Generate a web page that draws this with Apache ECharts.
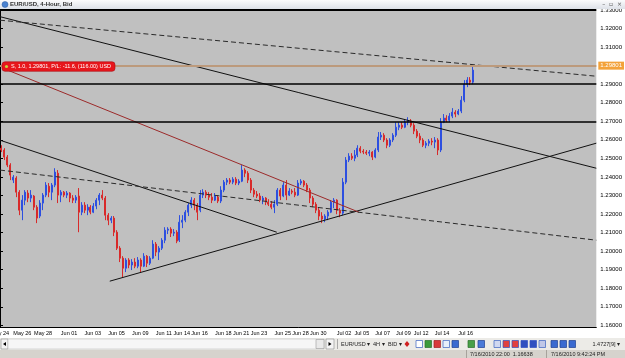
<!DOCTYPE html>
<html>
<head>
<meta charset="utf-8">
<script src="https://cdn.jsdelivr.net/npm/echarts@6/dist/echarts.min.js"></script>
<style>
html, body { margin: 0; padding: 0; background: #fff; }
#chart { width: 625px; height: 358px; }
</style>
</head>
<body>
<div id="chart"></div>
<script>
// EUR/USD 4-Hour, Bid  -- candles as [open, close, low, high]
const candles = [
    [1.2555, 1.2545, 1.2534, 1.2571], [1.2545, 1.2507, 1.2491, 1.2555], [1.2507, 1.2464, 1.2453, 1.2518],
    [1.2464, 1.2410, 1.2383, 1.2474], [1.2383, 1.2399, 1.2367, 1.2410], [1.2394, 1.2318, 1.2291, 1.2404],
    [1.2318, 1.2221, 1.2194, 1.2329], [1.2221, 1.2275, 1.2167, 1.2302], [1.2275, 1.2318, 1.2248, 1.2329],
    [1.2313, 1.2286, 1.2264, 1.2329], // 10
    [1.2286, 1.2302, 1.2264, 1.2329], [1.2297, 1.2237, 1.2221, 1.2302], [1.2237, 1.2178, 1.2151, 1.2248],
    [1.2189, 1.2259, 1.2178, 1.2275], [1.2259, 1.2302, 1.2221, 1.2313], [1.2302, 1.2356, 1.2291, 1.2372],
    [1.2350, 1.2318, 1.2291, 1.2367], [1.2318, 1.2356, 1.2275, 1.2367], [1.2356, 1.2426, 1.2345, 1.2447],
    [1.2420, 1.2302, 1.2259, 1.2437], // 20
    [1.2302, 1.2318, 1.2264, 1.2329], [1.2318, 1.2302, 1.2291, 1.2324], [1.2302, 1.2313, 1.2286, 1.2324],
    [1.2313, 1.2286, 1.2264, 1.2318], [1.2286, 1.2275, 1.2259, 1.2302], [1.2275, 1.2291, 1.2259, 1.2302],
    [1.2297, 1.2210, 1.2102, 1.2340], [1.2210, 1.2248, 1.2194, 1.2264], [1.2248, 1.2221, 1.2205, 1.2264],
    [1.2221, 1.2237, 1.2194, 1.2253], // 30
    [1.2237, 1.2210, 1.2199, 1.2248], [1.2210, 1.2243, 1.2205, 1.2259], [1.2243, 1.2275, 1.2226, 1.2286],
    [1.2275, 1.2302, 1.2248, 1.2313], [1.2302, 1.2286, 1.2275, 1.2329], [1.2286, 1.2194, 1.2167, 1.2297],
    [1.2194, 1.2167, 1.2140, 1.2205], [1.2167, 1.2178, 1.2151, 1.2189], [1.2178, 1.2102, 1.2081, 1.2189],
    [1.2102, 1.2016, 1.2006, 1.2113], // 40
    [1.2016, 1.1962, 1.1941, 1.2027], [1.1962, 1.1908, 1.1860, 1.1973], [1.1908, 1.1952, 1.1887, 1.1962],
    [1.1952, 1.1925, 1.1908, 1.1962], [1.1925, 1.1941, 1.1898, 1.1957], [1.1941, 1.1919, 1.1908, 1.1962],
    [1.1919, 1.1952, 1.1908, 1.1968], [1.1952, 1.1919, 1.1887, 1.1962], [1.1919, 1.1973, 1.1914, 1.1989],
    [1.1973, 1.1935, 1.1914, 1.1979], // 50
    [1.1935, 1.1962, 1.1925, 1.1973], [1.1962, 1.2038, 1.1957, 1.2059], [1.2038, 1.1995, 1.1973, 1.2049],
    [1.1995, 1.2016, 1.1952, 1.2027], [1.2016, 1.2059, 1.2006, 1.2070], [1.2059, 1.2113, 1.2043, 1.2129],
    [1.2113, 1.2119, 1.2092, 1.2129], [1.2119, 1.2097, 1.2076, 1.2129], [1.2097, 1.2102, 1.2081, 1.2119],
    [1.2102, 1.2054, 1.2043, 1.2113], // 60
    [1.2059, 1.2156, 1.2049, 1.2194], [1.2156, 1.2167, 1.2124, 1.2194], [1.2167, 1.2210, 1.2156, 1.2221],
    [1.2210, 1.2248, 1.2189, 1.2259], [1.2248, 1.2275, 1.2232, 1.2291], [1.2275, 1.2248, 1.2221, 1.2286],
    [1.2248, 1.2210, 1.2167, 1.2259], [1.2221, 1.2302, 1.2210, 1.2329], [1.2302, 1.2318, 1.2286, 1.2334],
    [1.2318, 1.2302, 1.2286, 1.2329], // 70
    [1.2302, 1.2291, 1.2275, 1.2318], [1.2291, 1.2275, 1.2259, 1.2313], [1.2275, 1.2297, 1.2270, 1.2313],
    [1.2291, 1.2270, 1.2259, 1.2302], [1.2270, 1.2329, 1.2259, 1.2350], [1.2329, 1.2372, 1.2318, 1.2383],
    [1.2372, 1.2383, 1.2356, 1.2394], [1.2383, 1.2372, 1.2361, 1.2394], [1.2372, 1.2388, 1.2361, 1.2399],
    [1.2388, 1.2367, 1.2356, 1.2399], // 80
    [1.2367, 1.2377, 1.2356, 1.2388], [1.2377, 1.2437, 1.2372, 1.2464], [1.2437, 1.2420, 1.2399, 1.2447],
    [1.2420, 1.2383, 1.2367, 1.2431], [1.2383, 1.2329, 1.2313, 1.2394], [1.2329, 1.2307, 1.2291, 1.2340],
    [1.2307, 1.2297, 1.2286, 1.2324], [1.2297, 1.2275, 1.2264, 1.2313], [1.2275, 1.2286, 1.2253, 1.2297],
    [1.2286, 1.2264, 1.2248, 1.2291], // 90
    [1.2264, 1.2253, 1.2243, 1.2280], [1.2253, 1.2237, 1.2226, 1.2270], [1.2237, 1.2253, 1.2205, 1.2275],
    [1.2253, 1.2329, 1.2243, 1.2340], [1.2329, 1.2297, 1.2275, 1.2340], [1.2297, 1.2356, 1.2291, 1.2372],
    [1.2356, 1.2302, 1.2275, 1.2383], [1.2302, 1.2324, 1.2297, 1.2340], [1.2324, 1.2318, 1.2307, 1.2334],
    [1.2318, 1.2302, 1.2291, 1.2340], // 100
    [1.2302, 1.2367, 1.2297, 1.2383], [1.2367, 1.2377, 1.2356, 1.2388], [1.2377, 1.2356, 1.2345, 1.2383],
    [1.2356, 1.2329, 1.2318, 1.2367], [1.2329, 1.2286, 1.2259, 1.2340], [1.2286, 1.2253, 1.2237, 1.2297],
    [1.2253, 1.2221, 1.2205, 1.2264], [1.2221, 1.2189, 1.2167, 1.2232], [1.2189, 1.2173, 1.2151, 1.2210],
    [1.2173, 1.2189, 1.2156, 1.2199], // 110
    [1.2189, 1.2210, 1.2167, 1.2221], [1.2210, 1.2264, 1.2205, 1.2275], [1.2264, 1.2275, 1.2232, 1.2286],
    [1.2275, 1.2221, 1.2199, 1.2280], [1.2221, 1.2205, 1.2183, 1.2232], [1.2205, 1.2372, 1.2194, 1.2394],
    [1.2372, 1.2491, 1.2361, 1.2507], [1.2491, 1.2512, 1.2480, 1.2528], [1.2512, 1.2501, 1.2491, 1.2528],
    [1.2501, 1.2518, 1.2485, 1.2545], // 120
    [1.2518, 1.2555, 1.2507, 1.2571], [1.2555, 1.2539, 1.2528, 1.2566], [1.2539, 1.2534, 1.2523, 1.2550],
    [1.2534, 1.2528, 1.2518, 1.2545], [1.2528, 1.2534, 1.2512, 1.2545], [1.2534, 1.2507, 1.2491, 1.2539],
    [1.2507, 1.2545, 1.2501, 1.2555], [1.2545, 1.2615, 1.2534, 1.2642], [1.2615, 1.2625, 1.2599, 1.2642],
    [1.2625, 1.2599, 1.2588, 1.2636], // 130
    [1.2599, 1.2571, 1.2555, 1.2609], [1.2571, 1.2599, 1.2561, 1.2609], [1.2599, 1.2625, 1.2588, 1.2636],
    [1.2625, 1.2668, 1.2615, 1.2695], [1.2668, 1.2679, 1.2652, 1.2695], [1.2679, 1.2668, 1.2658, 1.2695],
    [1.2668, 1.2695, 1.2663, 1.2712], [1.2695, 1.2701, 1.2679, 1.2722], [1.2701, 1.2679, 1.2668, 1.2712],
    [1.2679, 1.2647, 1.2631, 1.2690], // 140
    [1.2647, 1.2620, 1.2609, 1.2658], [1.2620, 1.2599, 1.2582, 1.2636], [1.2599, 1.2571, 1.2561, 1.2609],
    [1.2571, 1.2582, 1.2555, 1.2593], [1.2582, 1.2593, 1.2566, 1.2604], [1.2593, 1.2588, 1.2571, 1.2609],
    [1.2588, 1.2599, 1.2555, 1.2615], [1.2599, 1.2545, 1.2518, 1.2609], [1.2545, 1.2695, 1.2534, 1.2717],
    [1.2695, 1.2717, 1.2690, 1.2739], // 150
    [1.2717, 1.2706, 1.2695, 1.2733], [1.2706, 1.2728, 1.2695, 1.2744], [1.2728, 1.2749, 1.2717, 1.2771],
    [1.2749, 1.2739, 1.2722, 1.2760], [1.2739, 1.2755, 1.2733, 1.2766], [1.2755, 1.2814, 1.2744, 1.2836],
    [1.2814, 1.2900, 1.2803, 1.2922], [1.2900, 1.2922, 1.2884, 1.2938], [1.2922, 1.2911, 1.2895, 1.2938],
    [1.2911, 1.2976, 1.2900, 1.2997]  // 160
];

const barSlots = 201;  // bar slots on screen, the empty part on the right is the chart shift
const leadingLabel = 'May 24';
const xLabelBars = [4, 11, 20, 28, 36, 44, 52, 58, 64, 72, 78, 84, 92, 98, 104, 113, 119, 126, 133, 139, 146, 154];
const xLabelTexts = ['May 26', 'May 28', 'Jun 01', 'Jun 03', 'Jun 05', 'Jun 09', 'Jun 11', 'Jun 14', 'Jun 16', 'Jun 18',
    'Jun 21', 'Jun 23', 'Jun 25', 'Jun 28', 'Jun 30', 'Jul 02', 'Jul 05', 'Jul 07', 'Jul 09', 'Jul 12', 'Jul 14', 'Jul 16'];
const priceTicks = [1.16, 1.17, 1.18, 1.19, 1.20, 1.21, 1.22, 1.23, 1.24, 1.25, 1.26, 1.27, 1.28, 1.29, 1.30, 1.31, 1.32, 1.33];
const priceMin = 1.1591;
const priceMax = 1.3300;

// drawn objects: [bar slot, price]
const trendHigh = [[0, 1.3264], [201, 1.2447]];
const trendLow = [[0, 1.2598], [93.3, 1.2102]];
const trendRed = [[1, 1.2986], [121, 1.2210]];
const channelTop = [[0, 1.3245], [201, 1.2943]];
const channelBottom = [[0, 1.2437], [201, 1.2059]];
const supportLine = [[37, 1.1838], [201, 1.2582]];
const levels = [1.3294, 1.2933, 1.2712];
const orderPrice = 1.2983;
const orderText = 'S, 1.0, 1.29801, P/L: -11.6, (116.00) USD';
const orderTag = '1.29801';
const bidPrice = 1.2889;
const bidTag = '1.28890';

const FONT = 'Liberation Sans';

let myChart = echarts.init(document.getElementById('chart'));

let labelMap = {};
xLabelBars.forEach((b, k) => { labelMap[b] = xLabelTexts[k]; });
let categories = [];
for (let i = 0; i < barSlots; i++) categories.push(labelMap[i] || String(i));

// MT4 puts a small tick between each pair of dates
let tickSet = new Set(xLabelBars);
tickSet.add(0);
for (let k = 0; k < xLabelBars.length - 1; k++) {
    tickSet.add(Math.round((xLabelBars[k] + xLabelBars[k + 1]) / 2));
}
for (let b = 158; b < barSlots; b += 4) tickSet.add(b);

function drawnLine(pts, color, type) {
    return {
        type: 'line',
        xAxisIndex: 1,
        yAxisIndex: 0,
        data: pts,
        symbol: 'none',
        silent: true,
        clip: true,
        z: 3,
        lineStyle: { color: color, width: 1, type: type }
    };
}

let option = {
    animation: false,
    backgroundColor: '#fff',
    grid: {
        left: 0,
        right: 22,
        top: 10,
        bottom: 31,
        show: true,
        backgroundColor: '#c0c0c0',
        borderWidth: 0
    },
    xAxis: [
        {
            type: 'category',
            data: categories,
            boundaryGap: true,
            axisLine: { lineStyle: { color: '#000', width: 1 } },
            axisTick: {
                alignWithLabel: true,
                length: 3,
                interval: (i) => tickSet.has(i),
                lineStyle: { color: '#000' }
            },
            axisLabel: {
                interval: (i) => labelMap[i] !== undefined,
                formatter: (v, i) => labelMap[i] || '',
                align: 'left',
                margin: 3,
                fontSize: 5.5,
                fontFamily: FONT,
                color: '#000'
            },
            splitLine: { show: false }
        },
        { type: 'value', min: 0, max: barSlots, show: false }
    ],
    yAxis: {
        type: 'value',
        position: 'right',
        min: priceMin,
        max: priceMax,
        axisLine: { show: true, lineStyle: { color: '#000' } },
        axisTick: { show: true, length: 3, customValues: priceTicks, lineStyle: { color: '#000' } },
        axisLabel: {
            customValues: priceTicks,
            formatter: (v) => v.toFixed(5),
            margin: 4,
            fontSize: 6,
            fontFamily: FONT,
            color: '#000'
        },
        splitLine: { show: false }
    },
    series: [
        {
            type: 'candlestick',
            data: candles,
            barWidth: 1.5,
            z: 2,
            itemStyle: {
                color: '#2d4fe0',
                color0: '#d82a2a',
                borderColor: '#2d4fe0',
                borderColor0: '#d82a2a',
                borderWidth: 1
            },
            markLine: {
                silent: true,
                symbol: ['none', 'none'],
                label: { show: false },
                data: [
                    { yAxis: levels[0], lineStyle: { color: '#000', width: 2, type: 'solid' } },
                    { yAxis: levels[1], lineStyle: { color: '#000', width: 1.5, type: 'solid' } },
                    { yAxis: levels[2], lineStyle: { color: '#000', width: 1.5, type: 'solid' } },
                    {
                        yAxis: orderPrice,
                        lineStyle: { color: '#bc9a7c', width: 2, type: 'solid' },
                        label: {
                            show: true, position: 'end', distance: 2, formatter: orderTag,
                            backgroundColor: '#f3a23a', color: '#fff', fontSize: 6, fontFamily: FONT,
                            padding: [1, 2, 1, 2]
                        }
                    },
                    {
                        yAxis: bidPrice,
                        lineStyle: { opacity: 0 },
                        label: {
                            show: true, position: 'end', distance: 2, formatter: bidTag,
                            backgroundColor: '#e31c1c', color: '#fff', fontSize: 6, fontFamily: FONT,
                            padding: [1, 2, 1, 2]
                        }
                    }
                ]
            }
        },
        drawnLine(trendHigh, '#111', 'solid'),
        drawnLine(trendLow, '#111', 'solid'),
        drawnLine(supportLine, '#111', 'solid'),
        drawnLine(trendRed, '#9c2a2a', 'solid'),
        drawnLine(channelTop, '#2a2a2a', [5, 3]),
        drawnLine(channelBottom, '#2a2a2a', [5, 3])
    ]
};
myChart.setOption(option);

// window frame of the terminal and the order label
let orderY = myChart.convertToPixel({ yAxisIndex: 0 }, orderPrice);
let grad = new echarts.graphic.LinearGradient(0, 0, 0, 1, [
    { offset: 0, color: '#fbfbfc' }, { offset: 1, color: '#dde1e8' }
]);
let icons = [
    [416, '#ffffff', '#3a62c0'], [425, '#3b9b3b', '#2c6e2c'], [434, '#d83a3a', '#a02020'],
    [443, '#e6eefa', '#3a62c0'], [452, '#3a6ad0', '#1e3f90'], [468, '#48a048', '#2c6e2c'],
    [478, '#4a7ad8', '#1e3f90'], [494, '#d0d8f0', '#3a62c0'], [503, '#e04040', '#3050c0'],
    [512, '#e04040', '#3050c0'], [521, '#3050c0', '#3050c0'], [530, '#3050c0', '#3050c0'],
    [539, '#c0c8e8', '#3a62c0'], [551, '#3a6ad0', '#1e3f90'], [560, '#3a6ad0', '#1e3f90'],
    [569, '#3a6ad0', '#1e3f90']
];
let graphics = [
    { type: 'rect', z: 100, shape: { x: 0, y: 0, width: 625, height: 9 }, style: { fill: grad } },
    { type: 'circle', z: 101, shape: { cx: 5, cy: 4.5, r: 3 }, style: { fill: '#4a82d0', stroke: '#2a5aa0', lineWidth: 0.5 } },
    { type: 'text', z: 101, x: 10, y: 4.5, style: { text: 'EUR/USD, 4-Hour, Bid', font: 'bold 6px ' + FONT, fill: '#333', verticalAlign: 'middle' } },
    { type: 'text', z: 101, x: 622, y: 4.5, style: { text: '–  ▫  ×', font: '6px DejaVu Sans', fill: '#555', align: 'right', verticalAlign: 'middle' } },
    { type: 'text', z: 1, x: -9, y: 330, style: { text: leadingLabel, font: '5.5px ' + FONT, fill: '#000', verticalAlign: 'top' } },
    // scroll bar and toolbar
    { type: 'rect', z: 100, shape: { x: 0, y: 338, width: 625, height: 12 }, style: { fill: '#ecebe7' } },
    { type: 'rect', z: 101, shape: { x: 1, y: 339, width: 7, height: 10 }, style: { fill: '#f4f4f4', stroke: '#8c8c8c', lineWidth: 0.6 } },
    { type: 'polygon', z: 102, shape: { points: [[3, 344], [6, 342], [6, 346]] }, style: { fill: '#000' } },
    { type: 'rect', z: 101, shape: { x: 8, y: 339, width: 316, height: 10 }, style: { fill: '#f6f6f6', stroke: '#c4c4c4', lineWidth: 0.6 } },
    { type: 'rect', z: 102, shape: { x: 316, y: 339.5, width: 8, height: 9 }, style: { fill: '#e9e9e9', stroke: '#9a9a9a', lineWidth: 0.6 } },
    { type: 'rect', z: 101, shape: { x: 326, y: 339, width: 8, height: 10 }, style: { fill: '#f4f4f4', stroke: '#8c8c8c', lineWidth: 0.6 } },
    { type: 'polygon', z: 102, shape: { points: [[331.5, 344], [328.5, 342], [328.5, 346]] }, style: { fill: '#000' } },
    { type: 'line', z: 101, shape: { x1: 337.5, y1: 339, x2: 337.5, y2: 349 }, style: { stroke: '#999', lineWidth: 0.8 } },
    { type: 'text', z: 101, x: 341, y: 344, style: { text: 'EUR/USD ▾', font: '5.5px ' + FONT, fill: '#222', verticalAlign: 'middle' } },
    { type: 'text', z: 101, x: 373, y: 344, style: { text: '4H ▾', font: '5.5px ' + FONT, fill: '#222', verticalAlign: 'middle' } },
    { type: 'text', z: 101, x: 388, y: 344, style: { text: 'BID ▾', font: '5.5px ' + FONT, fill: '#222', verticalAlign: 'middle' } },
    { type: 'polygon', z: 101, shape: { points: [[407, 341], [409.5, 344], [407, 347], [404.5, 344]] }, style: { fill: '#d02020' } },
    { type: 'text', z: 101, x: 620, y: 344, style: { text: '1.4727[9] ▾', font: '5.5px ' + FONT, fill: '#222', align: 'right', verticalAlign: 'middle' } },
    // status bar
    { type: 'rect', z: 100, shape: { x: 0, y: 350, width: 625, height: 8 }, style: { fill: '#d6d3cd' } },
    { type: 'line', z: 101, shape: { x1: 466.5, y1: 350, x2: 466.5, y2: 358 }, style: { stroke: '#9a968e', lineWidth: 0.8 } },
    { type: 'line', z: 101, shape: { x1: 546.5, y1: 350, x2: 546.5, y2: 358 }, style: { stroke: '#9a968e', lineWidth: 0.8 } },
    { type: 'text', z: 101, x: 470, y: 354, style: { text: '7/16/2010 22:00  1.16638', font: '5.5px ' + FONT, fill: '#222', verticalAlign: 'middle' } },
    { type: 'text', z: 101, x: 551, y: 354, style: { text: '7/16/2010 9:42:24 PM', font: '5.5px ' + FONT, fill: '#222', verticalAlign: 'middle' } },
    // order label on the chart
    { type: 'rect', z: 50, shape: { x: 2, y: orderY - 7, width: 113, height: 9.5, r: 3 }, style: { fill: '#e8161c', stroke: '#a80c10', lineWidth: 0.6 } },
    { type: 'circle', z: 51, shape: { cx: 6.5, cy: orderY - 2.3, r: 1.6 }, style: { fill: '#c8d040' } },
    { type: 'text', z: 51, x: 11, y: orderY - 2.2, style: { text: orderText, font: '5.5px ' + FONT, fill: '#fff', verticalAlign: 'middle' } }
];
icons.forEach(function (ic) {
    graphics.push({ type: 'rect', z: 101, shape: { x: ic[0], y: 340.5, width: 6.5, height: 7 }, style: { fill: ic[1], stroke: ic[2], lineWidth: 0.7 } });
});
myChart.setOption({ graphic: graphics });

window.addEventListener('resize', function () {
    myChart.resize();
});
</script>
</body>
</html>
